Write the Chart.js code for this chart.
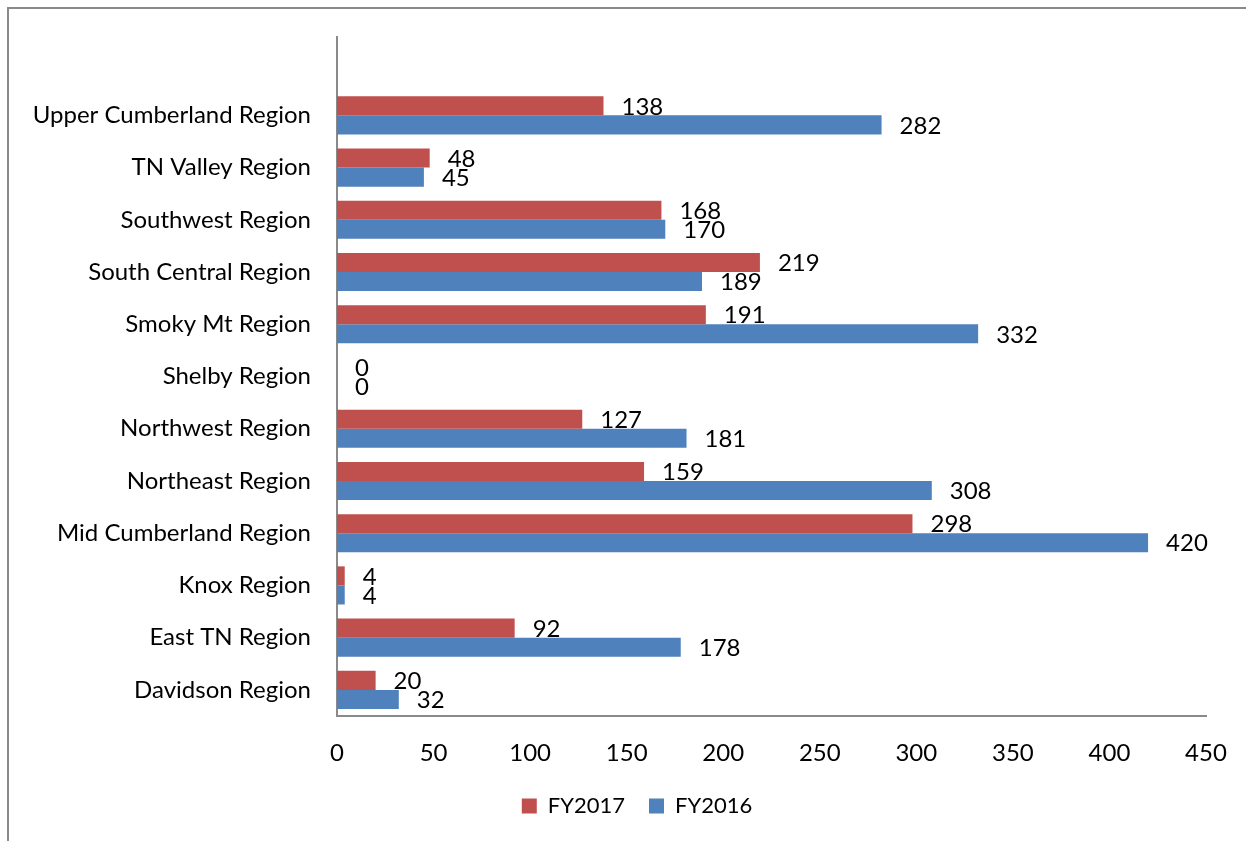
<!DOCTYPE html>
<html>
<head>
<meta charset="utf-8">
<script src="https://cdn.jsdelivr.net/npm/chart.js@4/dist/chart.umd.min.js"></script>
<style>
  html, body { margin: 0; padding: 0; background: #fff; }
  #wrap { width: 1246px; height: 841px; position: relative; }
</style>
</head>
<body>
<div id="wrap"><canvas id="chart" width="1246" height="841"></canvas></div>
<script>
// first entry is the empty row Excel leaves above the top region
const regions = [
  "",
  "Upper Cumberland Region",
  "TN Valley Region",
  "Southwest Region",
  "South Central Region",
  "Smoky Mt Region",
  "Shelby Region",
  "Northwest Region",
  "Northeast Region",
  "Mid Cumberland Region",
  "Knox Region",
  "East TN Region",
  "Davidson Region"
];
const fy2017 = [null, 138, 48, 168, 219, 191, 0, 127, 159, 298, 4, 92, 20];
const fy2016 = [null, 282, 45, 170, 189, 332, 0, 181, 308, 420, 4, 178, 32];
const xTicks = [0, 50, 100, 150, 200, 250, 300, 350, 400, 450];

const FONT = "Lato";
const FSIZE = 24;

// outer frame (only left and top edges show in the crop)
const framePlugin = {
  id: "frame",
  beforeDraw(chart) {
    const ctx = chart.ctx;
    ctx.save();
    ctx.strokeStyle = "#8a8a8a";
    ctx.lineWidth = 2;
    ctx.beginPath();
    ctx.moveTo(8, 841);
    ctx.lineTo(8, 8);
    ctx.lineTo(1246, 8);
    ctx.stroke();
    ctx.restore();
  }
};

// legend is centred a bit right of the canvas middle in the original
const legendShift = {
  id: "legendShift",
  afterLayout(chart) {
    const lg = chart.legend;
    lg.left = 68;
    lg.right = 1206;
    lg.width = lg.right - lg.left;
  }
};

// value labels at bar ends
const valueLabels = {
  id: "valueLabels",
  afterDatasetsDraw(chart) {
    const ctx = chart.ctx;
    ctx.save();
    ctx.font = FSIZE + "px " + FONT;
    ctx.fillStyle = "#000";
    ctx.textAlign = "left";
    ctx.textBaseline = "middle";
    chart.data.datasets.forEach((ds, i) => {
      chart.getDatasetMeta(i).data.forEach((bar, j) => {
        if (ds.data[j] == null) return;
        ctx.fillText(String(ds.data[j]), bar.x + 18, bar.y + 1);
      });
    });
    ctx.restore();
  }
};

new Chart(document.getElementById("chart"), {
  type: "bar",
  data: {
    labels: regions,
    datasets: [
      { label: "FY2017", data: fy2017, backgroundColor: "#C0504D" },
      { label: "FY2016", data: fy2016, backgroundColor: "#4F81BD" }
    ]
  },
  options: {
    indexAxis: "y",
    responsive: false,
    animation: false,
    categoryPercentage: 0.73,
    barPercentage: 1.0,
    layout: { padding: { left: 0, top: 37, right: 40, bottom: 14 } },
    plugins: {
      legend: {
        position: "bottom",
        labels: {
          boxWidth: 15,
          boxHeight: 15,
          color: "#000",
          padding: 24,
          font: { family: FONT, size: 22 }
        }
      },
      tooltip: { enabled: false }
    },
    scales: {
      x: {
        min: 0,
        max: 450,
        afterBuildTicks(scale) {
          scale.ticks = xTicks.map(v => ({ value: v }));
        },
        afterFit(scale) { scale.height = 55; },
        grid: { display: false },
        border: { color: "#8a8a8a", width: 2 },
        ticks: {
          color: "#000",
          padding: 15,
          maxRotation: 0,
          font: { family: FONT, size: FSIZE }
        }
      },
      y: {
        grid: { display: false },
        border: { color: "#8a8a8a", width: 2 },
        afterFit(scale) { scale.width = 337; },
        ticks: {
          color: "#000",
          padding: 18,
          font: { family: FONT, size: FSIZE }
        }
      }
    }
  },
  plugins: [framePlugin, legendShift, valueLabels]
});
</script>
</body>
</html>
